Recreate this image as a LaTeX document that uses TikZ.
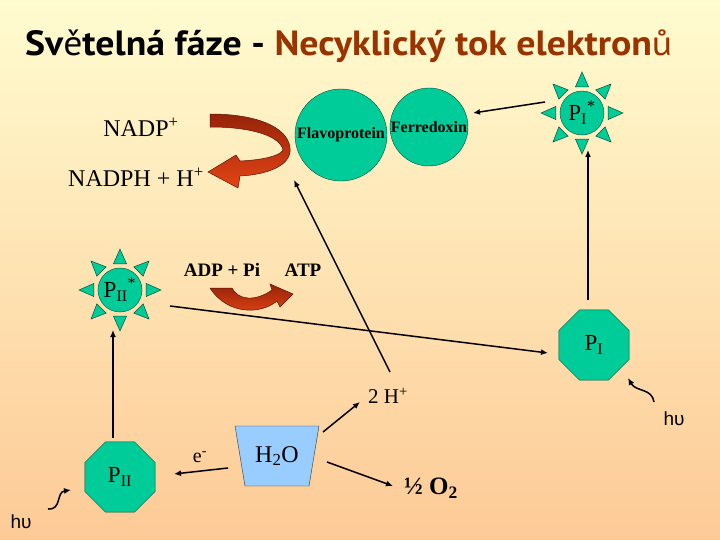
\documentclass[tikz,border=0pt]{standalone}
\usepackage{fontspec}
\setmainfont{Liberation Serif}
\newfontfamily\headfont[FakeStretch=1.08]{PT Sans}
\newfontfamily\photonfont{Liberation Sans}
\usepackage{tikz}
\usetikzlibrary{arrows.meta, shapes.geometric, positioning, calc}
\usepackage{xcolor}
\definecolor{chlgreen}{RGB}{0,204,153}
\definecolor{edgegreen}{RGB}{0,80,55}
\definecolor{waterblue}{RGB}{153,204,255}
\definecolor{titlebrown}{RGB}{153,51,0}
\definecolor{bgtop}{RGB}{255,252,208}
\definecolor{bgbottom}{RGB}{253,202,150}
\definecolor{ribbondark}{RGB}{150,35,10}
\definecolor{ribbonlight}{RGB}{228,68,20}

\begin{document}
\begin{tikzpicture}[x=1pt, y=-1pt,
    protein/.style={circle, draw=edgegreen, fill=chlgreen, inner sep=0pt,
                    font=\bfseries\fontsize{16}{16}\selectfont},
    sun/.style={circle, draw=edgegreen, fill=chlgreen, minimum size=44pt,
                inner sep=0pt, font=\fontsize{23}{23}\selectfont},
    ray/.style={draw=edgegreen, fill=chlgreen, line width=0.5pt},
    photosys/.style={regular polygon, regular polygon sides=8, draw=edgegreen,
                     fill=chlgreen, minimum size=76pt, inner sep=0pt,
                     font=\fontsize{23}{23}\selectfont},
    chem/.style={font=\fontsize{24}{24}\selectfont},
    energy/.style={font=\bfseries\fontsize{19}{19}\selectfont},
    photon/.style={font=\photonfont\fontsize{19}{19}\selectfont},
    arr/.style={-{Latex[length=7pt,width=6pt]}, line width=1.5pt},
    ribbon/.style={draw=ribbondark!60!black, line width=0.5pt,
                   top color=ribbondark, bottom color=ribbonlight}
  ]
    %% BACKGROUND
    \fill[top color=bgtop, bottom color=bgbottom] (0,0) rectangle (720,540);

    %% TITLE
    \node[anchor=base west, inner sep=0pt,
          font=\headfont\bfseries\fontsize{35}{35}\selectfont]
      (title) at (25,56)
      {Sv{\mdseries ě}telná fáze - \textcolor{titlebrown}{Necyklický tok elektron{\mdseries ů}}};

    %% PROTEINS
    \node[protein, minimum size=92pt] (flavo) at (341,135) {Flavoprotein};
    \node[protein, minimum size=78pt] (ferre) at (429,127) {Ferredoxin};

    %% EXCITED CENTRES
    \node[sun] (PIs) at (582,113) {P\textsubscript{I}\textsuperscript{*}};
    \node[sun] (PIIs) at (120,290) {P\textsubscript{II}\textsuperscript{*}};
    \foreach \s in {PIs, PIIs}
      \foreach \a in {0,45,...,315}
        \filldraw[ray] ($(\s)+(\a:41pt)$) -- ($(\s)+(\a+14:27pt)$)
          -- ($(\s)+(\a-14:27pt)$) -- cycle;

    %% REACTION CENTRES
    \node[photosys] (PI) at (594,345) {P\textsubscript{I}};
    \node[photosys] (PII) at (120,477) {P\textsubscript{II}};
    \node[trapezium, trapezium angle=71, trapezium stretches,
          shape border rotate=180, draw=black!80, fill=waterblue,
          minimum width=84pt, minimum height=60pt, inner sep=0pt, chem]
      (water) at (277,456) {H\textsubscript{2}O};

    %% LABELS
    \node[chem] (nadp) at (141,127) {NADP\textsuperscript{+}};
    \node[chem] (nadph) at (136,177) {NADPH + H\textsuperscript{+}};
    \node[energy] (adp) at (222,270) {ADP + Pi};
    \node[energy] (atp) at (303,270) {ATP};
    \node[font=\fontsize{21}{21}\selectfont] (twoh) at (388,396) {2 H\textsuperscript{+}};
    \node[font=\bfseries\fontsize{25}{25}\selectfont] (oxy) at (431,488) {½ O\textsubscript{2}};
    \node[font=\fontsize{20}{20}\selectfont] (el) at (200,457) {e\textsuperscript{-}};
    \node[photon] (hv1) at (21,522) {hυ};
    \node[photon] (hv2) at (674,419) {hυ};

    %% CURVED RIBBONS
    \draw[ribbon] (210,114) .. controls (262,114) and (292,130) .. (290,152)
      .. controls (288,168) and (262,175) .. (240,176)
      -- (238,188) -- (208,172) -- (236,155) -- (240,161)
      .. controls (262,160) and (280,156) .. (283,150)
      .. controls (280,136) and (252,127) .. (210,127) -- cycle;
    \draw[ribbon] (210,288) -- (232,288)
      .. controls (238,300) and (255,302) .. (272,290)
      -- (270,284) -- (293,294) -- (280,307) -- (277,301)
      .. controls (262,314) and (228,316) .. (210,288) -- cycle;

    %% ELECTRON FLOW
    \draw[arr] ([shift={(-7,-39)}]PII.center) -- ([shift={(-7,40)}]PIIs.center);
    \draw[arr] ([shift={(50,16)}]PIIs.center) -- ([shift={(-46,8)}]PI.center);
    \draw[arr] ([shift={(-6,-45)}]PI.center) -- ([shift={(6,37)}]PIs.center);
    \draw[arr] ([shift={(-37,-11)}]PIs.center) -- ([shift={(44,-14)}]ferre.center);
    \draw[arr] ([shift={(2,-24)}]twoh.center) -- ([shift={(-47,45)}]flavo.center);
    \draw[arr] ([shift={(-49,12)}]water.center) -- ([shift={(54,-3)}]PII.center);
    \draw[arr] ([shift={(46,-24)}]water.center) -- ([shift={(-28,6)}]twoh.center);
    \draw[arr] ([shift={(50,6)}]water.center) -- ([shift={(-38,-2)}]oxy.center);

    %% LIGHT
    \draw[arr] ([shift={(27,-13)}]hv1.center) .. controls +(14,1) and +(-15,2)
      .. ([shift={(-49,13)}]PII.center);
    \draw[arr] ([shift={(-20,-17)}]hv2.center) .. controls +(-2,-14) and +(8,14)
      .. ([shift={(34,33)}]PI.center);
  \end{tikzpicture}
\end{document}
